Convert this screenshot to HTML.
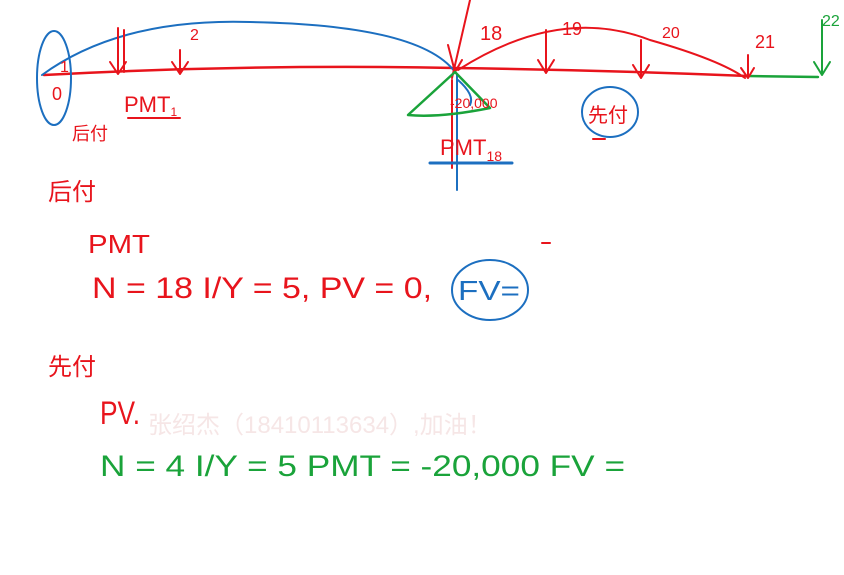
<!DOCTYPE html>
<html><head><meta charset="utf-8"><style>
html,body{margin:0;padding:0;background:#fff;}
svg{display:block}
text{font-family:"Liberation Sans","Noto Sans CJK SC",sans-serif;}
</style></head><body>
<svg width="844" height="575" viewBox="0 0 844 575" xmlns="http://www.w3.org/2000/svg">
<rect width="844" height="575" fill="#fff"/>
<g fill="none" stroke-linecap="round" stroke-linejoin="round">
<path d="M44 75 Q250 64 455 68 Q600 70 748 76" stroke="#e8141c" stroke-width="2.5"/>
<path d="M748 76 L818 77" stroke="#1aa33a" stroke-width="2.5"/>
<path d="M42 75 Q120 18 250 22 Q420 25 455 72" stroke="#1c6fc0" stroke-width="2"/>
<path d="M458 70 Q560 5 650 40 Q720 60 745 78" stroke="#e8141c" stroke-width="2"/>
<ellipse cx="54" cy="78" rx="17" ry="47" stroke="#1c6fc0" stroke-width="2"/>
<path d="M118 28 V74 M110 62 L118 74 L126 62" stroke="#e8141c" stroke-width="2"/>
<path d="M124 30 V72" stroke="#e8141c" stroke-width="2"/>
<path d="M180 50 V74 M172 62 L180 74 L188 62" stroke="#e8141c" stroke-width="2"/>
<path d="M546 30 V73 M538 60 L546 73 L554 60" stroke="#e8141c" stroke-width="2"/>
<path d="M641 40 V78 M633 65 L641 78 L649 65" stroke="#e8141c" stroke-width="2"/>
<path d="M748 55 V78 M741 68 L748 78 L754 68" stroke="#e8141c" stroke-width="2"/>
<path d="M822 20 V75 M814 62 L822 75 L830 62" stroke="#1aa33a" stroke-width="2"/>
<path d="M470 0 L452 78 M448 45 L455 72 L462 60" stroke="#e8141c" stroke-width="2"/>
<path d="M452 80 V168" stroke="#e8141c" stroke-width="2"/>
<path d="M457 75 V190" stroke="#1c6fc0" stroke-width="2"/>
<path d="M458 80 Q475 95 470 105" stroke="#1c6fc0" stroke-width="2"/>
<path d="M455 72 L408 115 Q440 118 490 108 Z" stroke="#1aa33a" stroke-width="2.5"/>
<path d="M430 163 H512" stroke="#1c6fc0" stroke-width="3"/>
<path d="M128 118 H180" stroke="#e8141c" stroke-width="2"/>
<ellipse cx="610" cy="112" rx="28" ry="25" stroke="#1c6fc0" stroke-width="2"/>
<ellipse cx="490" cy="290" rx="38" ry="30" stroke="#1c6fc0" stroke-width="2"/>
<path d="M593 139 H605" stroke="#e8141c" stroke-width="2"/>
<path d="M542 243 H550" stroke="#e8141c" stroke-width="2"/>
</g>
<g fill="#e8141c">
<text x="52" y="100" font-size="18">0</text>
<text x="60" y="72" font-size="16">1</text>
<text x="190" y="40" font-size="16">2</text>
<text x="480" y="40" font-size="20">18</text>
<text x="562" y="35" font-size="18">19</text>
<text x="662" y="38" font-size="16">20</text>
<text x="755" y="48" font-size="18">21</text>
<text x="124" y="112" font-size="22">PMT<tspan font-size="12" dy="4">1</tspan></text>
<text x="72" y="140" font-size="18">后付</text>
<text x="440" y="155" font-size="22">PMT<tspan font-size="14" dy="6">18</tspan></text>
<text x="450" y="108" font-size="14">-20,000</text>
<text x="588" y="122" font-size="20">先付</text>
<text x="48" y="200" font-size="24">后付</text>
<text x="88" y="253" font-size="26" textLength="62" lengthAdjust="spacingAndGlyphs">PMT</text>
<text x="92" y="298" font-size="30" textLength="340" lengthAdjust="spacingAndGlyphs">N = 18  I/Y = 5,  PV = 0,</text>
<text x="48" y="375" font-size="24">先付</text>
<text x="100" y="424" font-size="32" textLength="40" lengthAdjust="spacingAndGlyphs">PV.</text>
</g>
<text x="822" y="26" font-size="16" fill="#1aa33a">22</text>
<text x="458" y="300" font-size="28" fill="#1c6fc0" textLength="62" lengthAdjust="spacingAndGlyphs">FV=</text>
<text x="100" y="476" font-size="30" fill="#1aa33a" textLength="525" lengthAdjust="spacingAndGlyphs">N = 4  I/Y = 5  PMT = -20,000  FV =</text>
<text x="148" y="433" font-size="24" fill="#f6e6e6">张绍杰（18410113634）,加油！</text>
</svg>
</body></html>
